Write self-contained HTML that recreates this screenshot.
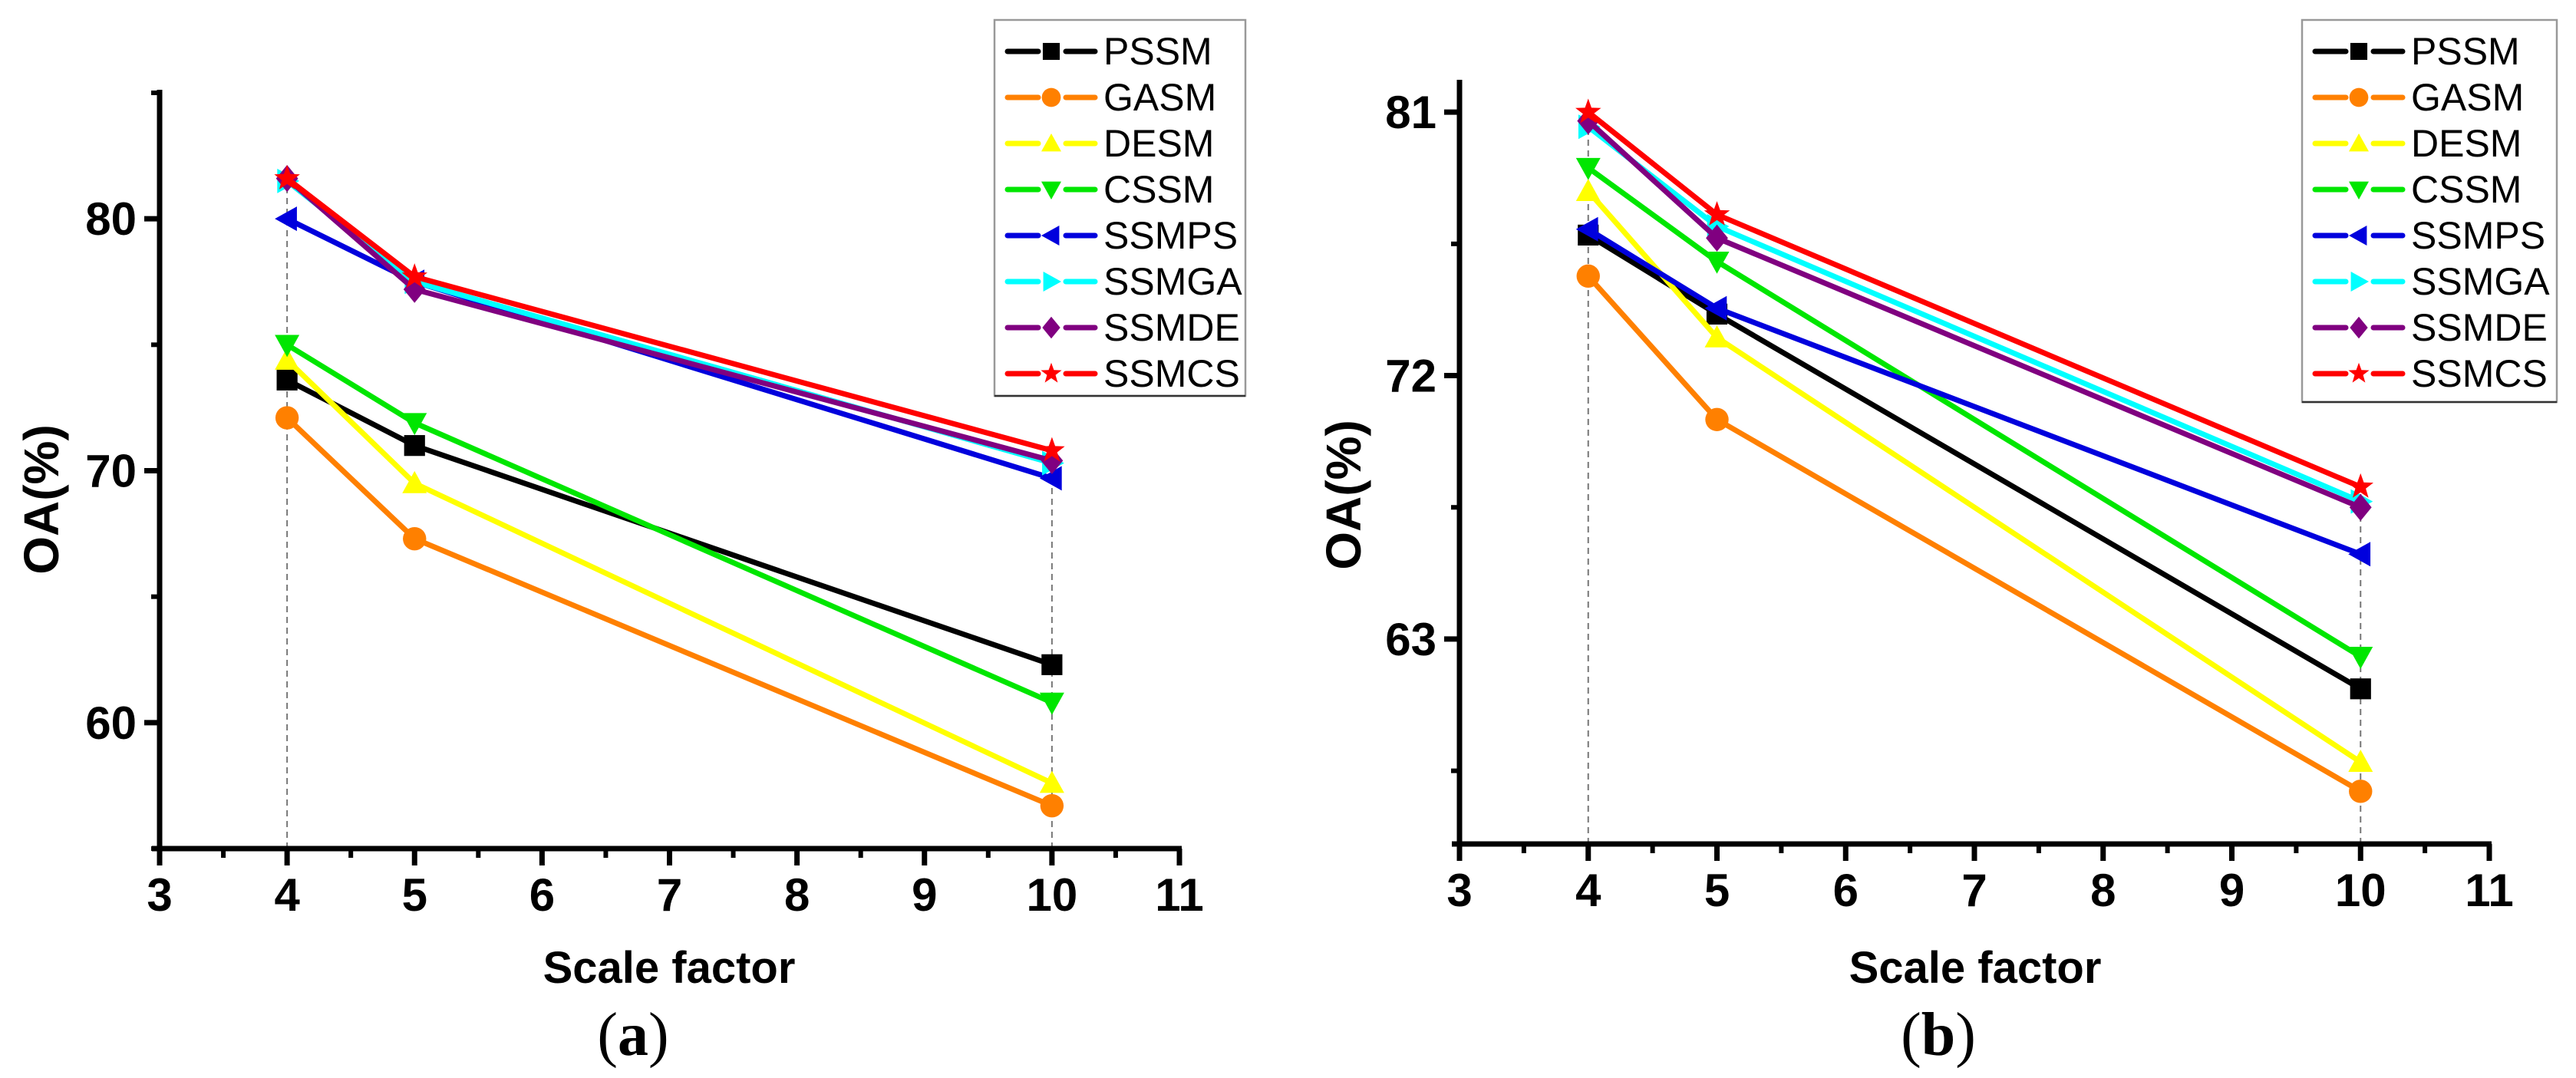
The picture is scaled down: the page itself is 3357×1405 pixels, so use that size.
<!DOCTYPE html>
<html><head><meta charset="utf-8"><style>
html,body{margin:0;padding:0;background:#fff;}
svg{display:block;}
text{font-family:"Liberation Sans",Arial,sans-serif;}
</style></head><body>
<svg id="fig" width="3357" height="1405" viewBox="0 0 3357 1405" xmlns="http://www.w3.org/2000/svg"></svg>
<script>
const seriesNames = ["PSSM","GASM","DESM","CSSM","SSMPS","SSMGA","SSMDE","SSMCS"];
const seriesColors = ["#000000","#ff8000","#ffff00","#00e600","#0000dd","#00ffff","#800080","#ff0000"];
const seriesMarkers = ["square","circle","up","down","left","right","diamond","star"];
const xCategories = [4,5,10];
const xTicks = [3,4,5,6,7,8,9,10,11];
// Panel (a)
const aPSSM = [73.6,71.0,62.3];
const aGASM = [72.1,67.3,56.7];
const aDESM = [74.4,69.5,57.6];
const aCSSM = [75.0,71.9,60.8];
const aSSMPS = [80.0,77.5,69.7];
const aSSMGA = [81.5,77.5,70.3];
const aSSMDE = [81.6,77.2,70.4];
const aSSMCS = [81.6,77.7,70.8];
const aYTicksMajor = [60,70,80];
const aYTicksMinor = [55,65,75,85];
// Panel (b)
const bPSSM = [76.8,74.1,61.3];
const bGASM = [75.4,70.5,57.8];
const bDESM = [78.3,73.3,58.8];
const bCSSM = [79.1,75.9,62.4];
const bSSMPS = [77.0,74.3,65.9];
const bSSMGA = [80.5,77.1,67.7];
const bSSMDE = [80.7,76.7,67.5];
const bSSMCS = [81.0,77.5,68.2];
const bYTicksMajor = [63,72,81];
const bYTicksMinor = [58.5,67.5,76.5];

const NS="http://www.w3.org/2000/svg";
const svg=document.getElementById('fig');
function mk(tag,attrs,parent){const e=document.createElementNS(NS,tag);for(const k in attrs)e.setAttribute(k,attrs[k]);(parent||svg).appendChild(e);return e;}

function marker(g,type,cx,cy,s,color){
  let e;
  const h=s/2;
  if(type==="square"){e=mk('rect',{x:cx-h*0.85,y:cy-h*0.85,width:s*0.85,height:s*0.85,fill:color},g);}
  else if(type==="circle"){e=mk('circle',{cx:cx,cy:cy,r:h*0.95,fill:color},g);}
  else {
    let pts;
    if(type==="up")pts=[[0,-h],[h,h*0.8],[-h,h*0.8]];
    else if(type==="down")pts=[[0,h],[h,-h*0.8],[-h,-h*0.8]];
    else if(type==="left")pts=[[-h,0],[h*0.8,-h],[h*0.8,h]];
    else if(type==="right")pts=[[h,0],[-h*0.8,-h],[-h*0.8,h]];
    else if(type==="diamond")pts=[[0,-h*1.1],[h*0.9,0],[0,h*1.1],[-h*0.9,0]];
    else { pts=[]; for(let i=0;i<10;i++){const r=i%2?h*0.45:h*1.1;const a=-Math.PI/2+i*Math.PI/5;pts.push([r*Math.cos(a),r*Math.sin(a)]);} }
    e=mk('polygon',{points:pts.map(p=>(cx+p[0])+','+(cy+p[1])).join(' '),fill:color},g);
  }
  return e;
}

function panel(cfg){
  const g=mk('g',{});
  
  
  const X=v=>cfg.x0+(v-3)*(cfg.x1-cfg.x0)/8;
  const Y=v=>cfg.yb-(v-cfg.ymin)*(cfg.yb-cfg.yt)/(cfg.ymax-cfg.ymin);
  [0,2].forEach(i=>{
    const top=Math.max(...cfg.data.map(d=>d[i]));
    const l=mk('line',{x1:X(xCategories[i]),x2:X(xCategories[i]),y1:cfg.yb,y2:Y(top),stroke:'#777','stroke-width':2,'stroke-dasharray':'8,6'},g);
    
    
  });
  const ya=mk('line',{x1:cfg.x0,x2:cfg.x0,y1:cfg.yt-4,y2:cfg.yb+3,stroke:'#000','stroke-width':7},g);
  
  
  const xa=mk('line',{x1:cfg.x0-10,x2:cfg.x1+3,y1:cfg.yb,y2:cfg.yb,stroke:'#000','stroke-width':7},g);
  
  
  xTicks.forEach(t=>{
    const x=X(t);
    const tk=mk('line',{x1:x,x2:x,y1:cfg.yb,y2:cfg.yb+22,stroke:'#000','stroke-width':7},g);
    
    
    if(t<11){const m=mk('line',{x1:x+(X(4)-X(3))/2,x2:x+(X(4)-X(3))/2,y1:cfg.yb,y2:cfg.yb+12,stroke:'#000','stroke-width':6},g);
      
      }
    const lb=mk('text',{x:x,y:cfg.yb+81,'text-anchor':'middle','font-size':60,'font-weight':'bold',fill:'#000'},g);
    lb.textContent=t;
    
    
  });
  cfg.major.forEach(t=>{
    const y=Y(t);
    const tk=mk('line',{x1:cfg.x0-20,x2:cfg.x0,y1:y,y2:y,stroke:'#000','stroke-width':7},g);
    
    
    const lb=mk('text',{x:cfg.x0-30,y:y+21,'text-anchor':'end','font-size':60,'font-weight':'bold',fill:'#000'},g);
    lb.textContent=t;
    
    
  });
  cfg.minor.forEach(t=>{
    const y=Y(t);
    const tk=mk('line',{x1:cfg.x0-11,x2:cfg.x0,y1:y,y2:y,stroke:'#000','stroke-width':6},g);
    
    
  });
  cfg.data.forEach((d,si)=>{
    const sg=mk('g',{},g);
    
    
    const pl=mk('polyline',{points:d.map((v,i)=>X(xCategories[i])+','+Y(v)).join(' '),fill:'none',stroke:seriesColors[si],'stroke-width':7,'stroke-linejoin':'round'},sg);
    
    
    d.forEach((v,i)=>{
      const m=marker(sg,seriesMarkers[si],X(xCategories[i]),Y(v),32,seriesColors[si]);
      
      
    });
  });
  const lg=mk('g',{},g);
  
  
  mk('rect',{x:cfg.lx,y:26,width:cfg.lw,height:cfg.lh,fill:'#fff',stroke:'#999','stroke-width':2.5},lg);
  mk('line',{x1:cfg.lx,x2:cfg.lx+cfg.lw,y1:26+cfg.lh,y2:26+cfg.lh,stroke:'#333','stroke-width':2.5},lg);
  seriesNames.forEach((n,si)=>{
    const y=67+si*60;
    const le=mk('g',{},lg);
    
    
    const a=cfg.lx+17;
    mk('line',{x1:a,x2:a+40,y1:y,y2:y,stroke:seriesColors[si],'stroke-width':7,'stroke-linecap':'round'},le);
    mk('line',{x1:a+76,x2:a+114,y1:y,y2:y,stroke:seriesColors[si],'stroke-width':7,'stroke-linecap':'round'},le);
    marker(le,seriesMarkers[si],a+57,y,26,seriesColors[si]);
    const t=mk('text',{x:a+125,y:y+17,'font-size':50,fill:'#000'},le);
    t.textContent=n;
  });
  const yt=mk('text',{x:0,y:0,transform:`translate(${cfg.ytx},${cfg.yty}) rotate(-90)`,'text-anchor':'middle','font-size':64,'font-weight':'bold',fill:'#000'},g);
  yt.textContent='OA(%)';
  
  
  const xt=mk('text',{x:cfg.xtx,y:1281,'text-anchor':'middle','font-size':58,'font-weight':'bold',fill:'#000'},g);
  xt.textContent='Scale factor';
  
  
  const cap=mk('text',{x:cfg.capx,y:1375,'text-anchor':'middle','font-size':80,fill:'#000',style:'font-family:"Liberation Serif",serif'},g);
  cap.innerHTML='(<tspan font-weight="bold">'+cfg.cap+'</tspan>)';
  
  
}

panel({name:'chart-a',x0:208,x1:1537,yt:121,yb:1106,ymin:55,ymax:85,major:aYTicksMajor,minor:aYTicksMinor,
  data:[aPSSM,aGASM,aDESM,aCSSM,aSSMPS,aSSMGA,aSSMDE,aSSMCS],lx:1296,lw:327,lh:490,ytx:76,yty:651,xtx:872,capx:825,cap:'a'});
panel({name:'chart-b',x0:1902,x1:3244,yt:108,yb:1100,ymin:56,ymax:82,major:bYTicksMajor,minor:bYTicksMinor,
  data:[bPSSM,bGASM,bDESM,bCSSM,bSSMPS,bSSMGA,bSSMDE,bSSMCS],lx:3000,lw:332,lh:498,ytx:1773,yty:645,xtx:2574,capx:2526,cap:'b'});
</script>
</body></html>
